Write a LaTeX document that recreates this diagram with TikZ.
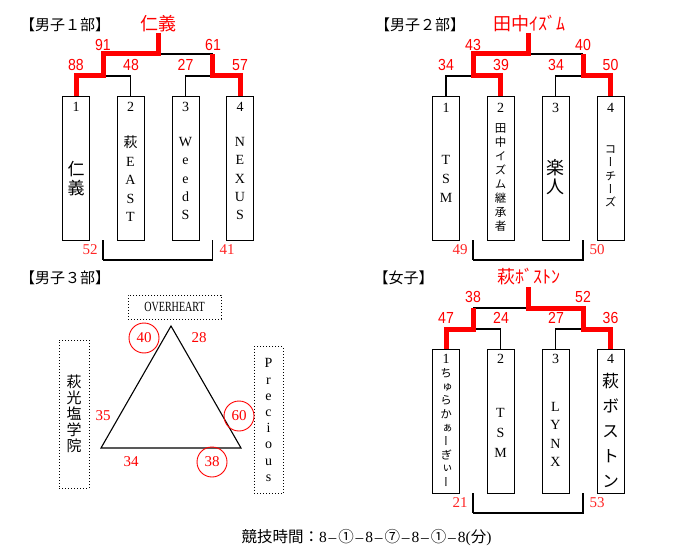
\documentclass[tikz,border=0pt]{standalone}
\usepackage{fontspec}
\usepackage{graphicx}
\setmainfont{Liberation Serif}
\newfontfamily\cjk{Noto Sans CJK JP}
\newfontfamily\cjkv[RawFeature={+vert}]{Noto Sans CJK JP}
\newfontfamily\scoref[FakeStretch=0.88]{Liberation Sans}
\newcommand\cj[1]{{\cjk #1}}
\newcommand\dsh{\makebox[11.5pt]{\textendash}}
\tikzset{
 tbox/.style={draw, line width=1pt, minimum width=27pt, minimum height=143pt, inner sep=0pt},
 blk/.style={line width=1.6pt},
 win/.style={line width=5pt, red},
 sc/.style={red, font=\scoref\fontsize{16}{16}\selectfont, inner sep=0pt},
 sc2/.style={red!85, font=\fontsize{15}{15}\selectfont, inner sep=0pt},
 num/.style={font=\fontsize{14}{14}\selectfont, inner sep=0pt},
 ttl/.style={font=\cjk\fontsize{15}{15}\selectfont, inner sep=0pt},
 champ/.style={red, font=\cjk\fontsize{18}{18}\selectfont, inner sep=0pt},
 stk/.style={align=center, inner sep=0pt},
 dbox/.style={draw, dotted, line width=1pt, inner sep=0pt},
 circ/.style={circle, draw=red, line width=0.9pt, minimum size=30pt, inner sep=0pt, text=red, font=\fontsize{15}{15}\selectfont},
 plain/.style={red, font=\fontsize{15}{15}\selectfont, inner sep=0pt},
 brk/.style={line width=1.2pt},
}
\begin{document}
\begin{tikzpicture}[x=1pt,y=-1pt]
\useasboundingbox (0,0) rectangle (687,553);
\fill[white] (0,0) rectangle (687,553);

% ================= Panel 1 =================
\node[ttl] (t1) at (65,25) {【男子１部】};
\node[champ] (w1) at (158,24) {仁義};
\node[tbox] (a1) at (76,168.5) {};
\node[tbox] (a2) at (130.5,168.5) {};
\node[tbox] (a3) at (185.5,168.5) {};
\node[tbox] (a4) at (240,168.5) {};
\node[num] (a1n) at (76,107) {1};
\node[num] (a2n) at (130.5,107) {2};
\node[num] (a3n) at (185.5,107) {3};
\node[num] (a4n) at (240,107) {4};
\node[stk, font=\cjk\fontsize{17}{19}\selectfont] (a1t) at (76,178.5) {仁\\義};
\node[stk, font=\fontsize{14}{18.5}\selectfont] (a2t) at (130.5,179) {{\cjk 萩}\\E\\A\\S\\T};
\node[stk, font=\fontsize{14}{18.3}\selectfont] (a3t) at (185.5,178.5) {W\\e\\e\\d\\S};
\node[stk, font=\fontsize{14}{18.3}\selectfont] (a4t) at (240,178.5) {N\\E\\X\\U\\S};
\coordinate (a12) at (103.25,76);
\coordinate (a34) at (212.75,76);
\coordinate (a12u) at (103.25,54);
\coordinate (a34u) at (212.75,54);
\coordinate (a0) at (158,54);
\coordinate (a0u) at (158,33);
\draw[blk] (a2.north) |- (a12);
\draw[blk] (a3.north) |- (a34);
\draw[blk] (a0) -- (a34u);
\draw[win] (a1.north) |- (a12) -- (a12u) -- (a0) -- (a0u);
\draw[win] (a4.north) |- (a34) -- (a34u);
\node[sc] (s91) at (103,45) {91};
\node[sc] (s61) at (213,45) {61};
\node[sc] (s88) at (76,65) {88};
\node[sc] (s48) at (131,65) {48};
\node[sc] (s27) at (185.5,65) {27};
\node[sc] (s57) at (240,65) {57};
\coordinate (a1b) at (103.25,240);
\coordinate (a4b) at (212.75,240);
\draw[brk] (a1b) -- ++(0,20) -| (a4b);
\draw[line width=2pt] (a1b) -- ++(0,20);
\node[sc2] (s52) at (90,250) {52};
\node[sc2] (s41) at (227,250) {41};

% ================= Panel 2 =================
\node[ttl] (t2) at (420,25) {【男子２部】};
\node[champ] (w2) at (529,24) {田中ｲｽﾞﾑ};
\node[tbox] (b1) at (446,168.5) {};
\node[tbox] (b2) at (500.5,168.5) {};
\node[tbox] (b3) at (555.5,168.5) {};
\node[tbox] (b4) at (610.5,168.5) {};
\node[num] (b1n) at (446,108) {1};
\node[num] (b2n) at (500.5,108) {2};
\node[num] (b3n) at (555.5,108) {3};
\node[num] (b4n) at (610.5,108) {4};
\node[stk, font=\fontsize{14}{19}\selectfont] (b1t) at (446,179) {T\\S\\M};
\node[stk, font=\cjkv\fontsize{11.5}{14.1}\selectfont] (b2t) at (500.5,177.5) {田\\中\\イ\\ズ\\ム\\継\\承\\者};
\node[stk, font=\cjk\fontsize{18}{19}\selectfont] (b3t) at (555.5,177.5) {楽\\人};
\node[stk, font=\cjkv\fontsize{11.5}{13.25}\selectfont] (b4t) at (610.5,176.5) {コ\\ー\\チ\\ー\\ズ};
\coordinate (b12) at (473.25,76);
\coordinate (b34) at (583,76);
\coordinate (b12u) at (473.25,54);
\coordinate (b34u) at (583,54);
\coordinate (b0) at (528,54);
\coordinate (b0u) at (528,33);
\draw[blk] (b1.north) |- (b12);
\draw[blk] (b3.north) |- (b34);
\draw[blk] (b0) -- (b34u);
\draw[win] (b2.north) |- (b12) -- (b12u) -- (b0) -- (b0u);
\draw[win] (b4.north) |- (b34) -- (b34u);
\node[sc] (s43) at (473,45) {43};
\node[sc] (s40) at (583,45) {40};
\node[sc] (s34a) at (446,65) {34};
\node[sc] (s39) at (501,65) {39};
\node[sc] (s34b) at (556,65) {34};
\node[sc] (s50) at (610.5,65) {50};
\coordinate (b1b) at (473.25,240);
\coordinate (b4b) at (583,240);
\draw[brk] (b1b) -- ++(0,20) -| (b4b);
\draw[line width=2pt] (b1b) -- ++(0,20);
\node[sc2] (s49) at (460,250) {49};
\node[sc2] (s50b) at (597,250) {50};

% ================= Panel 3 =================
\node[ttl] (t3) at (65,278) {【男子３部】};
\node[dbox, minimum width=93pt, minimum height=24pt] (ov) at (174.5,307)
  {\fontsize{14}{14}\selectfont\scalebox{0.72}[1]{OVERHEART}};
\node[dbox, minimum width=30pt, minimum height=148pt, align=center,
  font=\cjk\fontsize{15}{16}\selectfont] (hk) at (74,414) {萩\\光\\塩\\学\\院};
\node[dbox, minimum width=29pt, minimum height=147pt, align=center,
  font=\fontsize{14}{16.2}\selectfont] (pr) at (268.5,420) {P\\r\\e\\c\\i\\o\\u\\s};
\coordinate (tA) at (171,326);
\coordinate (tB) at (101,448);
\coordinate (tC) at (241,448);
\draw[line width=1.1pt, line join=miter] (tA) -- (tB) -- (tC) -- cycle;
\node[circ] (c40) at (144,338) {40};
\node[plain] (n28) at (199,338) {28};
\node[plain] (n35) at (103,416) {35};
\node[circ] (c60) at (239,416) {60};
\node[plain] (n34) at (131,462) {34};
\node[circ] (c38) at (212,462) {38};

% ================= Panel 4 =================
\node[ttl] (t4) at (403.5,278) {【女子】};
\node[champ] (w4) at (529,277) {萩ﾎﾞｽﾄﾝ};
\node[tbox, minimum height=144pt] (d1) at (446,421) {};
\node[tbox, minimum height=144pt] (d2) at (500.5,421) {};
\node[tbox, minimum height=144pt] (d3) at (555.5,421) {};
\node[tbox, minimum height=144pt] (d4) at (610.5,421) {};
\node[num] (d1n) at (446,359) {1};
\node[num] (d2n) at (500.5,359) {2};
\node[num] (d3n) at (555.5,359) {3};
\node[num] (d4n) at (610.5,359) {4};
\node[stk, font=\cjkv\fontsize{11.5}{13.6}\selectfont] (d1t) at (446,427.5) {ち\\ゅ\\ら\\か\\ぁ\\ー\\ぎ\\ぃ\\ー};
\node[stk, font=\fontsize{14}{20}\selectfont] (d2t) at (500.5,433) {T\\S\\M};
\node[stk, font=\fontsize{14}{18.3}\selectfont] (d3t) at (555.5,434.5) {L\\Y\\N\\X};
\node[stk, font=\cjkv\fontsize{17}{25}\selectfont] (d4t) at (610.5,430) {萩\\ボ\\ス\\ト\\ン};
\coordinate (d12) at (473.25,329);
\coordinate (d34) at (583,329);
\coordinate (d12u) at (473.25,308);
\coordinate (d34u) at (583,308);
\coordinate (d0) at (528,308);
\coordinate (d0u) at (528,287);
\draw[blk] (d2.north) |- (d12);
\draw[blk] (d3.north) |- (d34);
\draw[blk] (d12u) -- (d0);
\draw[win] (d1.north) |- (d12) -- (d12u);
\draw[win] (d4.north) |- (d34) -- (d34u) -- (d0) -- (d0u);
\node[sc] (s38) at (473,297) {38};
\node[sc] (s52b) at (583,297) {52};
\node[sc] (s47) at (446,318) {47};
\node[sc] (s24) at (501,318) {24};
\node[sc] (s27b) at (556,318) {27};
\node[sc] (s36) at (610.5,318) {36};
\coordinate (d1b) at (473.25,493);
\coordinate (d4b) at (583,493);
\draw[brk] (d1b) -- ++(0,20) -| (d4b);
\draw[line width=2pt] (d1b) -- ++(0,20);
\node[sc2] (s21) at (460,503) {21};
\node[sc2] (s53) at (597,503) {53};

% ================= Footer =================
\node[inner sep=0pt, font=\fontsize{15.5}{15.5}\selectfont] (ft) at (366.5,538)
 {\cj{競技時間：}8\dsh\cj{①}\dsh 8\dsh\cj{⑦}\dsh 8\dsh\cj{①}\dsh 8(\cj{分})};
\end{tikzpicture}
\end{document}
